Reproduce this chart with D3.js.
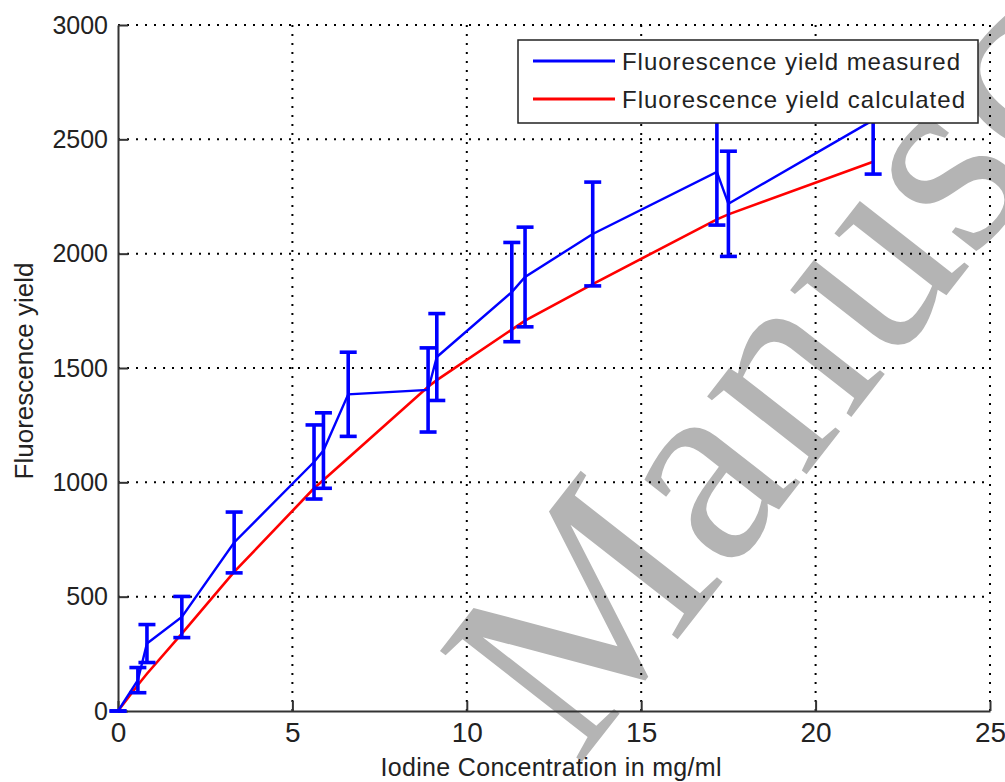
<!DOCTYPE html>
<html>
<head>
<meta charset="utf-8">
<script src="https://cdn.jsdelivr.net/npm/d3@7"></script>
<style>
  body { margin: 0; background: #fff; }
  svg { display: block; }
  text { font-family: "Liberation Sans", Arial, sans-serif; fill: #222; }
</style>
</head>
<body>
<div id="vis"></div>
<script>
// values
var conc = [0, 0.57, 0.83, 1.83, 3.33, 5.62, 5.89, 6.6, 8.89, 9.14, 11.29, 11.67, 13.61, 17.17, 17.5, 21.65];
var measured = [0, 135, 295, 411, 737, 1089, 1139, 1385, 1404, 1548, 1832, 1898, 2086, 2357, 2218, 2584];
var measErr = [0, 55, 83, 90, 133, 162, 165, 184, 184, 190, 217, 218, 227, 232, 230, 236];
var calculated = [0, 114, 163, 338, 608, 974, 1010, 1106, 1418, 1447, 1668, 1707, 1867, 2150, 2172, 2402];
var xTicks = [0, 5, 10, 15, 20, 25];
var yTicks = [0, 500, 1000, 1500, 2000, 2500, 3000];
var legendLabels = ["Fluorescence yield measured", "Fluorescence yield calculated"];

var W = 1005, H = 782;
var margin = { top: 25, right: 15, bottom: 71, left: 118 },
    width = W - margin.left - margin.right,
    height = H - margin.top - margin.bottom;

var root = d3.select("#vis").append("svg")
    .attr("width", W)
    .attr("height", H);

// watermark behind the plot
root.append("text")
    .attr("transform", "translate(577,768) rotate(-52)")
    .style("font-family", "'Liberation Serif', 'Times New Roman', serif")
    .style("font-size", "275px")
    .style("fill", "#b4b4b4")
    .text("Manuscript");

var svg = root.append("g")
    .attr("transform", "translate(" + margin.left + "," + margin.top + ")");

var x = d3.scaleLinear().domain([0, 25]).range([0, width]);
var y = d3.scaleLinear().domain([0, 3000]).range([height, 0]);

// dotted grid
svg.append("g").selectAll("line")
    .data(xTicks.filter(d => d > 0))
    .enter().append("line")
    .attr("x1", d => x(d)).attr("x2", d => x(d))
    .attr("y1", 0).attr("y2", height)
    .attr("stroke", "#000").attr("stroke-width", 2)
    .attr("stroke-dasharray", "2,7");
svg.append("g").selectAll("line")
    .data(yTicks.filter(d => d > 0))
    .enter().append("line")
    .attr("y1", d => y(d)).attr("y2", d => y(d))
    .attr("x1", 0).attr("x2", width)
    .attr("stroke", "#000").attr("stroke-width", 2)
    .attr("stroke-dasharray", "2,7");

// axes, ticks inward
var xAxis = d3.axisBottom(x).tickValues(xTicks).tickSize(-10).tickSizeOuter(0)
    .tickFormat(d3.format("d"));
var yAxis = d3.axisLeft(y).tickValues(yTicks).tickSize(-10).tickPadding(10).tickSizeOuter(0)
    .tickFormat(d3.format("d"));

var gx = svg.append("g")
    .attr("transform", "translate(0," + height + ")")
    .call(xAxis);
var gy = svg.append("g").call(yAxis);
[gx, gy].forEach(function (g) {
    g.select(".domain").attr("stroke", "#333").attr("stroke-width", 2);
    g.selectAll(".tick line").attr("stroke", "#333").attr("stroke-width", 2);
    g.selectAll(".tick text")
        .style("font-family", "'Liberation Sans', Arial, sans-serif")
        .style("font-size", "25px")
        .style("fill", "#222");
});
gx.selectAll(".tick text")
    .style("font-family", "'Liberation Sans Narrow', 'Liberation Sans', Arial, sans-serif")
    .style("font-size", "28px")
    .attr("dy", "0.71em").attr("y", 11);

// axis titles
svg.append("text")
    .attr("x", 433)
    .attr("y", height + 65)
    .attr("text-anchor", "middle")
    .attr("textLength", 341)
    .attr("lengthAdjust", "spacing")
    .style("font-size", "25px")
    .text("Iodine Concentration in mg/ml");
svg.append("text")
    .attr("transform", "translate(-85," + (height / 2 + 3) + ") rotate(-90)")
    .attr("text-anchor", "middle")
    .style("font-size", "26px")
    .text("Fluorescence yield");

var pts = conc.map((c, i) => ({ c: c, m: measured[i], e: measErr[i], k: calculated[i] }));

// calculated curve
svg.append("path")
    .datum(pts)
    .attr("fill", "none")
    .attr("stroke", "#ff0000")
    .attr("stroke-width", 2.6)
    .attr("d", d3.line().x(d => x(d.c)).y(d => y(d.k)));

// measured line
svg.append("path")
    .datum(pts)
    .attr("fill", "none")
    .attr("stroke", "#0000ff")
    .attr("stroke-width", 2.4)
    .attr("d", d3.line().x(d => x(d.c)).y(d => y(d.m)));

// error bars
var cap = 8.5;
var eb = svg.append("g").attr("stroke", "#0000ff").attr("stroke-width", 3.6);
eb.selectAll(".bar").data(pts).enter().append("line")
    .attr("x1", d => x(d.c)).attr("x2", d => x(d.c))
    .attr("y1", d => y(d.m - d.e)).attr("y2", d => y(d.m + d.e));
eb.selectAll(".top").data(pts).enter().append("line")
    .attr("x1", d => x(d.c) - cap).attr("x2", d => x(d.c) + cap)
    .attr("y1", d => y(d.m + d.e)).attr("y2", d => y(d.m + d.e));
eb.selectAll(".bot").data(pts).enter().append("line")
    .attr("x1", d => x(d.c) - cap).attr("x2", d => x(d.c) + cap)
    .attr("y1", d => y(d.m - d.e)).attr("y2", d => y(d.m - d.e));

// legend
var lg = root.append("g").attr("transform", "translate(518,40)");
lg.append("rect")
    .attr("width", 460).attr("height", 83)
    .attr("fill", "#fff").attr("stroke", "#222").attr("stroke-width", 1.5);
var colors = ["#0000ff", "#ff0000"];
legendLabels.forEach(function (lab, i) {
    var yy = 21 + i * 38;
    lg.append("line")
        .attr("x1", 15).attr("x2", 97)
        .attr("y1", yy).attr("y2", yy)
        .attr("stroke", colors[i]).attr("stroke-width", 3);
    lg.append("text")
        .attr("x", 104).attr("y", yy + 9)
        .attr("textLength", i === 0 ? 338 : 343)
        .attr("lengthAdjust", "spacing")
        .style("font-size", "24px")
        .text(lab);
});
</script>
</body>
</html>
